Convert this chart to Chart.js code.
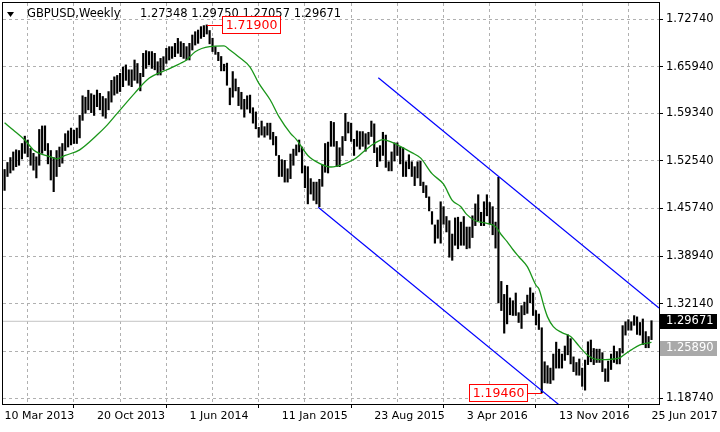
<!DOCTYPE html>
<html>
<head>
<meta charset="utf-8">
<script src="https://cdn.jsdelivr.net/npm/chart.js@4.4.1/dist/chart.umd.min.js"></script>
<style>
  html, body { margin: 0; padding: 0; background: #fff; }
</style>
</head>
<body>
<canvas id="myChart" width="720" height="432"></canvas>
<script>
// GBPUSD weekly bars, first bar = week of 10 Mar 2013, last = 25 Jun 2017
const highs = [
  1.5130, 1.5230, 1.5300, 1.5380, 1.5410, 1.5400, 1.5500, 1.5605, 1.5550, 1.5430,
  1.5360, 1.5310, 1.5700, 1.5750, 1.5752, 1.5500, 1.5400, 1.5300, 1.5400, 1.5450,
  1.5500, 1.5640, 1.5680, 1.5720, 1.5690, 1.5720, 1.5900, 1.6180, 1.6160, 1.6259,
  1.6210, 1.6190, 1.6262, 1.6215, 1.6170, 1.6140, 1.6240, 1.6400, 1.6450, 1.6470,
  1.6500, 1.6590, 1.6620, 1.6550, 1.6550, 1.6690, 1.6640, 1.6500, 1.6785, 1.6823,
  1.6810, 1.6810, 1.6785, 1.6665, 1.6713, 1.6737, 1.6856, 1.6880, 1.6880, 1.6927,
  1.6998, 1.6951, 1.6927, 1.6880, 1.6927, 1.7046, 1.7093, 1.7117, 1.7165, 1.7180,
  1.7190, 1.7110, 1.7000, 1.6880, 1.6800, 1.6740, 1.6630, 1.6645, 1.6290, 1.6525,
  1.6420, 1.6300, 1.6230, 1.6130, 1.6180, 1.6190, 1.6010, 1.5950, 1.5730, 1.5820,
  1.5740, 1.5790, 1.5790, 1.5660, 1.5600, 1.5330, 1.5270, 1.5260, 1.5140, 1.5350,
  1.5420, 1.5480, 1.5550, 1.5450, 1.5180, 1.5170, 1.5000, 1.4950, 1.4950, 1.4990,
  1.5200, 1.5500, 1.5520, 1.5815, 1.5800, 1.5530, 1.5440, 1.5600, 1.5930, 1.5805,
  1.5790, 1.5560, 1.5680, 1.5670, 1.5670, 1.5640, 1.5660, 1.5820, 1.5780, 1.5440,
  1.5470, 1.5660, 1.5620, 1.5240, 1.5380, 1.5510, 1.5510, 1.5450, 1.5440, 1.5240,
  1.5340, 1.5240, 1.5170, 1.5240, 1.5250, 1.4950, 1.4900, 1.4740, 1.4530, 1.4340,
  1.4410, 1.4670, 1.4600, 1.4460, 1.4400, 1.4210, 1.4440, 1.4450, 1.4380, 1.4460,
  1.4310, 1.4310, 1.4470, 1.4640, 1.4770, 1.4520, 1.4670, 1.4770, 1.4660, 1.4600,
  1.4380, 1.5018, 1.3535, 1.3350, 1.3480, 1.3300, 1.3260, 1.3370, 1.3090, 1.3190,
  1.3240, 1.3340, 1.3445, 1.3370, 1.3120, 1.3070, 1.2875, 1.2390, 1.2335, 1.2300,
  1.2500, 1.2670, 1.2570, 1.2500, 1.2615, 1.2775, 1.2720, 1.2460, 1.2380, 1.2430,
  1.2300, 1.2415, 1.2675, 1.2700, 1.2580, 1.2570, 1.2570, 1.2520, 1.2290, 1.2400,
  1.2500, 1.2615, 1.2535, 1.2580, 1.2905, 1.2960, 1.2990, 1.2960, 1.3048, 1.3030,
  1.2950, 1.3000, 1.2820, 1.2750, 1.29750
];
const lows = [
  1.4832, 1.5030, 1.5080, 1.5120, 1.5170, 1.5190, 1.5280, 1.5360, 1.5310, 1.5190,
  1.5120, 1.5010, 1.5190, 1.5360, 1.5400, 1.5210, 1.4980, 1.4814, 1.5030, 1.5170,
  1.5220, 1.5400, 1.5450, 1.5480, 1.5500, 1.5500, 1.5580, 1.5830, 1.5930, 1.5980,
  1.5940, 1.5900, 1.6025, 1.5980, 1.5890, 1.5860, 1.5980, 1.6090, 1.6190, 1.6215,
  1.6240, 1.6310, 1.6400, 1.6330, 1.6310, 1.6400, 1.6360, 1.6250, 1.6452, 1.6570,
  1.6620, 1.6570, 1.6550, 1.6476, 1.6476, 1.6547, 1.6642, 1.6690, 1.6713, 1.6737,
  1.6785, 1.6737, 1.6713, 1.6690, 1.6690, 1.6832, 1.6903, 1.6927, 1.6998, 1.7022,
  1.7060, 1.6920, 1.6810, 1.6770, 1.6680, 1.6535, 1.6535, 1.6330, 1.6052, 1.6160,
  1.6250, 1.6040, 1.5990, 1.5875, 1.5990, 1.5940, 1.5790, 1.5710, 1.5590, 1.5620,
  1.5590, 1.5620, 1.5560, 1.5480, 1.5330, 1.5030, 1.5030, 1.4950, 1.4950, 1.5000,
  1.5190, 1.5330, 1.5380, 1.5080, 1.4870, 1.4640, 1.4780, 1.4690, 1.4640, 1.4600,
  1.4890, 1.5090, 1.5080, 1.5460, 1.5460, 1.5170, 1.5170, 1.5330, 1.5540, 1.5650,
  1.5530, 1.5330, 1.5460, 1.5420, 1.5460, 1.5390, 1.5490, 1.5600, 1.5370, 1.5170,
  1.5250, 1.5330, 1.5160, 1.5110, 1.5110, 1.5250, 1.5330, 1.5210, 1.5030, 1.5030,
  1.5140, 1.5030, 1.4900, 1.5010, 1.4900, 1.4800, 1.4730, 1.4540, 1.4350, 1.4080,
  1.4150, 1.4080, 1.4350, 1.4240, 1.3880, 1.3836, 1.4050, 1.4000, 1.4050, 1.4050,
  1.4000, 1.4010, 1.4160, 1.4330, 1.4400, 1.4330, 1.4330, 1.4470, 1.4350, 1.4200,
  1.4010, 1.3229, 1.3120, 1.2798, 1.2930, 1.3060, 1.3050, 1.3050, 1.2950, 1.2865,
  1.3060, 1.3080, 1.3230, 1.3050, 1.2915, 1.2850, 1.1946, 1.2090, 1.2085, 1.2080,
  1.2130, 1.2300, 1.2300, 1.2300, 1.2410, 1.2490, 1.2360, 1.2250, 1.2200, 1.2198,
  1.2040, 1.1986, 1.2350, 1.2390, 1.2350, 1.2380, 1.2380, 1.2250, 1.2110, 1.2110,
  1.2280, 1.2380, 1.2360, 1.2360, 1.2515, 1.2770, 1.2840, 1.2840, 1.2910, 1.2780,
  1.2770, 1.2635, 1.2590, 1.2590, 1.27057
];

// moving average (bar index -> value)
const maIndex = [0, 3, 7, 10, 12, 16, 18, 21, 26, 32, 35, 39, 45, 50, 56, 61, 63, 66, 71, 76,
  78, 81, 85, 88, 92, 95, 99, 101, 105, 109, 113, 117, 121, 125, 128, 131, 134, 137, 141, 144,
  148, 152, 155, 158, 160, 163, 167, 170, 172, 174, 176, 178, 181, 184, 185, 187, 188, 190, 193, 196,
  199, 202, 205, 208, 211, 213, 215, 217, 220, 224];
const maValues = [1.5796, 1.5693, 1.5550, 1.5408, 1.5360, 1.5310, 1.5280, 1.5330, 1.5410, 1.5620,
  1.5740, 1.5930, 1.6215, 1.6429, 1.6547, 1.6643, 1.6690, 1.6808, 1.6880, 1.6890,
  1.6832, 1.6737, 1.6590, 1.6360, 1.6120, 1.5882, 1.5645, 1.5560, 1.5330, 1.5218,
  1.5165, 1.5200, 1.5275, 1.5408, 1.5500, 1.5555, 1.5520, 1.5460, 1.5370, 1.5295,
  1.5070, 1.4920, 1.4690, 1.4600, 1.4490, 1.4400, 1.4363, 1.4316, 1.4200, 1.4102,
  1.3990, 1.3890, 1.3745, 1.3480, 1.3430, 1.3150, 1.3030, 1.2891, 1.2805, 1.2750,
  1.2610, 1.2480, 1.2425, 1.2420, 1.2430, 1.2445, 1.2505, 1.2560, 1.2630, 1.2665];

// channel trend lines: [bar index, price] anchors
const upperChannel = [[129.4, 1.6438], [226.6, 1.3156]];
const lowerChannel = [[108.6, 1.4591], [192.0, 1.1777]];

const xTickLabels = ["10 Mar 2013", "20 Oct 2013", "1 Jun 2014", "11 Jan 2015",
  "23 Aug 2015", "3 Apr 2016", "13 Nov 2016", "25 Jun 2017"];
const yTickValues = [1.18740, 1.25340, 1.32140, 1.38940, 1.45740, 1.52540, 1.59340, 1.65940, 1.72740];

const symbolTitle = "GBPUSD,Weekly";
const lastOHLC = [1.27348, 1.29750, 1.27057, 1.29671];
const hLineLevel = 1.25890;
const highMark = { i: 70, v: 1.71900 };
const lowMark = { i: 186, v: 1.19460 };

const xMin = -0.55, xMax = 226.6;
const yMin = 1.17886, yMax = 1.75020;
const FONT = "DejaVu Sans";

const bars = highs.map((h, i) => ({ x: i, y: [lows[i], h] }));
const gridIdx = [];
for (let k = 0; k <= 224; k += 16) gridIdx.push(k);

// frame, title, price labels like the terminal draws them
const terminalLook = {
  id: "terminalLook",
  afterDraw(chart) {
    const c = chart.ctx;
    const a = chart.chartArea;
    const xs = chart.scales.x, ys = chart.scales.y;
    c.save();
    c.strokeStyle = "#000";
    c.lineWidth = 1;
    c.strokeRect(a.left - 0.5, a.top - 0.5, a.right - a.left + 1, a.bottom - a.top + 1);

    // title
    c.fillStyle = "#000";
    c.beginPath();
    c.moveTo(7, 12); c.lineTo(14, 12); c.lineTo(10.5, 17); c.closePath();
    c.fill();
    c.font = "11.5px " + FONT;
    c.textBaseline = "middle";
    c.textAlign = "left";
    c.fillText(symbolTitle, 27, 14);
    c.fillText(lastOHLC.map(v => v.toFixed(5)).join(" "), 140, 14);

    // red high / low labels
    c.font = "12.5px " + FONT;
    c.textAlign = "center";
    const redLabel = (m, side) => {
      const px = Math.round(xs.getPixelForValue(m.i));
      const py = Math.round(ys.getPixelForValue(m.v)) + 0.5;
      const bw = 58, bh = 17, gap = 15;
      const bx = side > 0 ? px + gap : px - gap - bw;
      c.strokeStyle = "#ff0000";
      c.beginPath();
      c.moveTo(px, py);
      c.lineTo(side > 0 ? bx : bx + bw, py);
      c.stroke();
      c.fillStyle = "#fff";
      c.fillRect(bx + 0.5, py - 9, bw, bh);
      c.strokeRect(bx + 0.5, py - 9, bw, bh);
      c.fillStyle = "#ff0000";
      c.fillText(m.v.toFixed(5), bx + bw / 2 + 0.5, py);
    };
    redLabel(highMark, 1);
    redLabel(lowMark, -1);

    // axis price boxes
    c.font = "11.5px " + FONT;
    c.textAlign = "left";
    const axisBox = (v, bg) => {
      const py = Math.round(ys.getPixelForValue(v));
      c.fillStyle = bg;
      c.fillRect(a.right + 1, py - 7, 57, 15);
      c.fillStyle = "#fff";
      c.fillText(v.toFixed(5), a.right + 7, py + 0.5);
    };
    axisBox(hLineLevel, "#a9a9a9");
    axisBox(lastOHLC[3], "#000");
    c.restore();
  }
};

const ctx = document.getElementById("myChart");

new Chart(ctx, {
  type: "bar",
  data: {
    datasets: [
      {
        type: "line",
        label: "MA",
        data: maIndex.map((x, k) => ({ x: x, y: maValues[k] })),
        borderColor: "#1a961a",
        borderWidth: 1.3,
        pointRadius: 0,
        cubicInterpolationMode: "monotone",
        order: 1,
      },
      {
        type: "line",
        label: "upper channel",
        data: upperChannel.map(p => ({ x: p[0], y: p[1] })),
        borderColor: "#0000ff",
        borderWidth: 1.2,
        pointRadius: 0,
        order: 2,
      },
      {
        type: "line",
        label: "lower channel",
        data: lowerChannel.map(p => ({ x: p[0], y: p[1] })),
        borderColor: "#0000ff",
        borderWidth: 1.2,
        pointRadius: 0,
        order: 2,
      },
      {
        type: "line",
        label: "bid",
        data: [{ x: xMin, y: lastOHLC[3] }, { x: xMax, y: lastOHLC[3] }],
        borderColor: "#c4c4c4",
        borderWidth: 1,
        pointRadius: 0,
        order: 9,
      },
      {
        type: "bar",
        label: "GBPUSD",
        data: bars,
        backgroundColor: "#000",
        borderWidth: 0,
        barThickness: 1.5,
        grouped: false,
        order: 5,
      },
    ],
  },
  options: {
    responsive: false,
    animation: false,
    devicePixelRatio: 1,
    layout: { padding: { left: 3, top: 3, right: 0, bottom: 0 } },
    plugins: { legend: { display: false }, tooltip: { enabled: false } },
    scales: {
      x: {
        type: "linear",
        min: xMin,
        max: xMax,
        offset: false,
        afterBuildTicks: s => { s.ticks = gridIdx.map(v => ({ value: v })); },
        afterFit: s => { s.height = 28; s.paddingLeft = 0; s.paddingRight = 0; },
        ticks: {
          autoSkip: false,
          maxRotation: 0,
          minRotation: 0,
          align: "start",
          padding: 2,
          color: "#000",
          font: { family: FONT, size: 11 },
          callback: v => (v % 32 === 0 ? xTickLabels[v / 32] : ""),
        },
        grid: {
          color: "#b0b0b0",
          tickLength: 4,
          tickBorderDash: [],
          tickColor: c => (c.tick && c.tick.value % 32 === 0 ? "#000" : "rgba(0,0,0,0)"),
        },
        border: { color: "#000", width: 1, dash: [3, 3] },
      },
      y: {
        position: "right",
        min: yMin,
        max: yMax,
        afterBuildTicks: s => { s.ticks = yTickValues.map(v => ({ value: v })); },
        afterFit: s => { s.width = 61; s.paddingTop = 0; s.paddingBottom = 0; },
        ticks: {
          padding: 3,
          crossAlign: "near",
          color: "#000",
          font: { family: FONT, size: 11.5 },
          callback: v => v.toFixed(5),
        },
        grid: { color: "#b0b0b0", tickLength: 4, tickColor: "#000", tickBorderDash: [] },
        border: { color: "#000", width: 1, dash: [3, 3] },
      },
    },
  },
  plugins: [terminalLook],
});
</script>
</body>
</html>
